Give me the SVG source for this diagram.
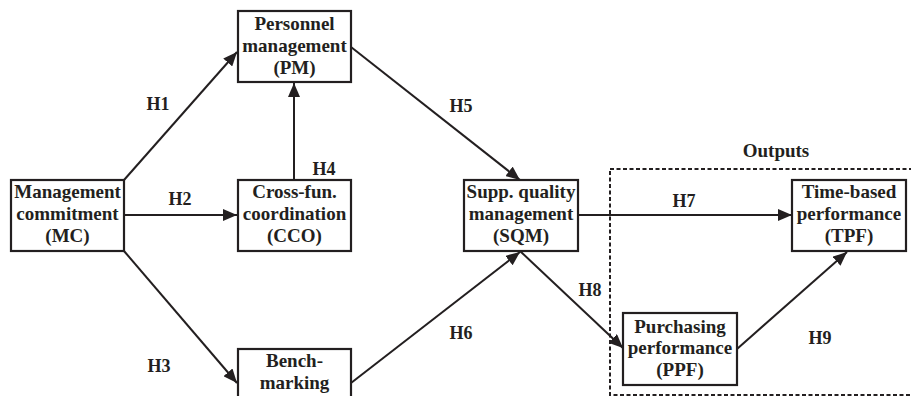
<svg xmlns="http://www.w3.org/2000/svg" width="911" height="396" viewBox="0 0 911 396">
<defs>
<marker id="ah" markerUnits="userSpaceOnUse" markerWidth="14" markerHeight="12" viewBox="0 0 14 12" refX="14" refY="6" orient="auto">
<path d="M0,0 L14,6 L0,12 Z" fill="#231f20"/>
</marker>
<style>
.box{fill:#fff;stroke:#231f20;stroke-width:2.2}
.t{font-family:"Liberation Serif","Times New Roman",serif;font-weight:bold;font-size:19px;fill:#231f20;text-anchor:middle}
.lbl{font-family:"Liberation Serif","Times New Roman",serif;font-weight:bold;font-size:18px;fill:#231f20;text-anchor:middle}
.c{stroke:#231f20;stroke-width:2;fill:none;marker-end:url(#ah)}
</style>
</defs>
<rect width="911" height="396" fill="#fff"/>
<g id="outputs">
<rect x="610" y="169" width="310" height="226" fill="none" stroke="#231f20" stroke-width="2" stroke-dasharray="4 2.5"/>
<text class="t" x="776" y="157">Outputs</text>
</g>
<g id="connectors">
<line class="c" x1="124" y1="180" x2="237" y2="52"/>
<line class="c" x1="124" y1="215" x2="237" y2="215"/>
<line class="c" x1="124" y1="251" x2="237" y2="383"/>
<line class="c" x1="294" y1="180" x2="294" y2="83"/>
<line class="c" x1="351" y1="47" x2="520" y2="180"/>
<line class="c" x1="351" y1="383" x2="520" y2="252"/>
<line class="c" x1="578" y1="215" x2="792" y2="215"/>
<line class="c" x1="520" y1="251" x2="623" y2="348"/>
<line class="c" x1="737" y1="349" x2="847" y2="252"/>
<text class="lbl" x="158" y="110">H1</text>
<text class="lbl" x="180" y="205">H2</text>
<text class="lbl" x="159" y="372">H3</text>
<text class="lbl" x="324" y="175">H4</text>
<text class="lbl" x="461" y="112">H5</text>
<text class="lbl" x="461" y="339">H6</text>
<text class="lbl" x="684" y="207">H7</text>
<text class="lbl" x="590" y="296">H8</text>
<text class="lbl" x="820" y="344">H9</text>
</g>
<g id="PM">
<rect class="box" x="238" y="11" width="113" height="71"/>
<text class="t" x="294.5" y="30">Personnel</text>
<text class="t" x="294.5" y="52">management</text>
<text class="t" x="294.5" y="74">(PM)</text>
</g>
<g id="MC">
<rect class="box" x="11" y="180" width="113" height="71"/>
<text class="t" x="67.5" y="198">Management</text>
<text class="t" x="67.5" y="220">commitment</text>
<text class="t" x="67.5" y="242">(MC)</text>
</g>
<g id="CCO">
<rect class="box" x="238" y="180" width="113" height="71"/>
<text class="t" x="294.5" y="198">Cross-fun.</text>
<text class="t" x="294.5" y="220">coordination</text>
<text class="t" x="294.5" y="242">(CCO)</text>
</g>
<g id="BM">
<rect class="box" x="238" y="349" width="113" height="71"/>
<text class="t" x="294.5" y="367">Bench-</text>
<text class="t" x="294.5" y="389">marking</text>
</g>
<g id="SQM">
<rect class="box" x="464" y="180" width="114" height="71"/>
<text class="t" x="521" y="198">Supp. quality</text>
<text class="t" x="521" y="220">management</text>
<text class="t" x="521" y="242">(SQM)</text>
</g>
<g id="TPF">
<rect class="box" x="792" y="180" width="114" height="71"/>
<text class="t" x="849" y="198">Time-based</text>
<text class="t" x="849" y="220">performance</text>
<text class="t" x="849" y="242">(TPF)</text>
</g>
<g id="PPF">
<rect class="box" x="623" y="313" width="114" height="72"/>
<text class="t" x="680" y="333">Purchasing</text>
<text class="t" x="680" y="354">performance</text>
<text class="t" x="680" y="376">(PPF)</text>
</g>
</svg>
